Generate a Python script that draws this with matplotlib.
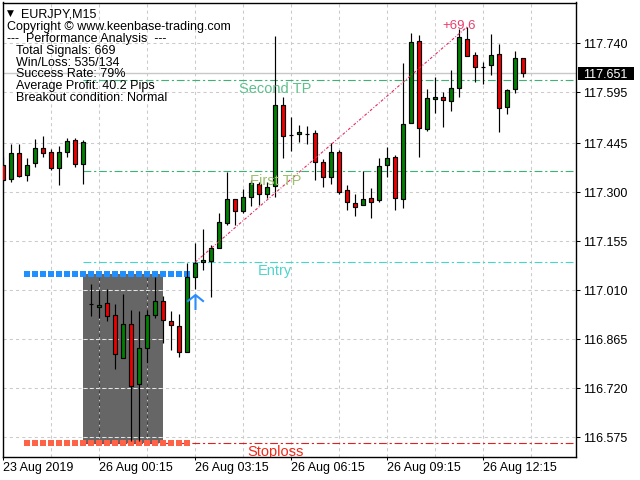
import matplotlib
matplotlib.use("Agg")
import matplotlib.pyplot as plt
from matplotlib.patches import Rectangle
from matplotlib.path import Path
from matplotlib.markers import MarkerStyle

plt.rcParams['font.family'] = ['Liberation Sans', 'DejaVu Sans']

# ---------------- data ----------------
symbol_label = "EURJPY,M15"
copyright_text = "Copyright © www.keenbase-trading.com"
panel_title = "---  Performance Analysis  ---"
panel_lines = ["Total Signals: 669", "Win/Loss: 535/134", "Success Rate: 79%",
               "Average Profit: 40.2 Pips", "Breakout condition: Normal"]

opens = [117.379, 117.338, 117.415, 117.350, 117.385, 117.430, 117.418, 117.370, 117.418, 117.453,
         117.382, 116.968, 116.959, 116.971, 116.936, 116.809, 116.909, 116.732, 116.838, 116.936,
         116.977, 116.918, 116.903, 116.826, 117.048, 117.092, 117.097, 117.134, 117.209, 117.279,
         117.243, 117.285, 117.325, 117.293, 117.317, 117.557, 117.470, 117.471, 117.473, 117.474,
         117.390, 117.346, 117.418, 117.305, 117.267, 117.261, 117.282, 117.276, 117.379, 117.403,
         117.281, 117.503, 117.746, 117.486, 117.574, 117.580, 117.568, 117.607, 117.752, 117.704,
         117.671, 117.675, 117.707, 117.551, 117.604, 117.696]
highs = [117.403, 117.442, 117.443, 117.400, 117.456, 117.466, 117.427, 117.436, 117.461, 117.459,
         117.453, 117.028, 117.010, 117.013, 116.969, 116.998, 116.951, 116.948, 116.952, 117.049,
         116.992, 116.948, 116.939, 117.090, 117.150, 117.190, 117.144, 117.238, 117.360, 117.279,
         117.309, 117.336, 117.331, 117.331, 117.762, 117.580, 117.522, 117.498, 117.495, 117.483,
         117.398, 117.445, 117.423, 117.320, 117.293, 117.362, 117.311, 117.400, 117.433, 117.409,
         117.681, 117.770, 117.765, 117.604, 117.639, 117.596, 117.662, 117.781, 117.788, 117.713,
         117.685, 117.767, 117.737, 117.605, 117.716, 117.696]
lows = [117.335, 117.329, 117.345, 117.334, 117.375, 117.403, 117.364, 117.322, 117.403, 117.374,
        117.325, 116.934, 116.929, 116.920, 116.778, 116.809, 116.565, 116.565, 116.796, 116.929,
        116.855, 116.832, 116.811, 116.826, 117.013, 117.070, 116.991, 117.134, 117.203, 117.204,
        117.237, 117.259, 117.262, 117.284, 117.286, 117.400, 117.422, 117.449, 117.442, 117.337,
        117.316, 117.325, 117.293, 117.246, 117.230, 117.261, 117.223, 117.272, 117.346, 117.246,
        117.254, 117.503, 117.405, 117.481, 117.533, 117.493, 117.539, 117.580, 117.702, 117.625,
        117.619, 117.645, 117.477, 117.530, 117.592, 117.639]
closes = [117.337, 117.415, 117.349, 117.379, 117.429, 117.415, 117.370, 117.418, 117.450, 117.382,
          117.447, 116.968, 116.965, 116.935, 116.820, 116.909, 116.726, 116.838, 116.936, 116.977,
          116.921, 116.906, 116.826, 117.048, 117.091, 117.098, 117.134, 117.213, 117.279, 117.243,
          117.285, 117.327, 117.293, 117.314, 117.557, 117.467, 117.470, 117.477, 117.473, 117.388,
          117.346, 117.418, 117.301, 117.270, 117.257, 117.279, 117.270, 117.376, 117.400, 117.282,
          117.500, 117.743, 117.489, 117.577, 117.580, 117.571, 117.607, 117.758, 117.702, 117.669,
          117.671, 117.704, 117.548, 117.601, 117.696, 117.651]

x_tick_bars = [0, 12, 24, 36, 48, 60]
x_tick_labels = ["23 Aug 2019", "26 Aug 00:15", "26 Aug 03:15",
                 "26 Aug 06:15", "26 Aug 09:15", "26 Aug 12:15"]
y_tick_labels = ["116.575", "116.720", "116.865", "117.010", "117.155",
                 "117.300", "117.445", "117.595", "117.740"]

current_price = 117.651
entry_price = 117.093
first_tp = 117.361
second_tp = 117.631
stoploss = 116.557
range_high = 117.057
range_low = 116.559
range_start_bar = 10
range_end_bar = 20
range_marker_first_bar = 3
range_marker_last_bar = 23
signal_bar = 24
signal_arrow_price = 116.974
target_bar = 58
target_price = 117.789
profit_label = "+69.6"
profit_label_bar = 57
level_label_bar = 34

# ---------------- figure ----------------
W, H = 640, 480
fig = plt.figure(figsize=(6.4, 4.8), dpi=100)
fig.patch.set_facecolor('white')
ax = fig.add_axes([2.7 / W, 23.3 / H, 573.3 / W, 454.2 / H])
ax.set_facecolor('white')

n = len(opens)
ax.set_xlim(-0.075, 71.6)
ax.set_ylim(116.5176, 117.8606)

# grid
ytick_vals = [float(s) for s in y_tick_labels]
grid_kw = dict(color='#CBCBCB', lw=0.75, ls=(0, (3, 3)), zorder=1.5)
for v in ytick_vals:
    ax.axhline(v, **grid_kw)
grid_bars = list(range(6, 72, 6))
for b in grid_bars:
    ax.axvline(b, **grid_kw)

# breakout range box
ax.add_patch(Rectangle((range_start_bar, range_low), range_end_bar - range_start_bar,
                       range_high - range_low, facecolor='#666666', edgecolor='none', zorder=1))
for b in grid_bars:
    if range_start_bar < b < range_end_bar:
        ax.vlines(b, range_low, range_high, colors='#404040', lw=0.75, ls=(0, (3, 3)), zorder=1.6)
for v in ytick_vals:
    if range_low < v < range_high:
        ax.hlines(v, range_start_bar, range_end_bar, colors='#E6E6E6', lw=0.75,
                  ls=(0, (3, 3)), zorder=1.6)

# level lines
xmax = ax.get_xlim()[1]
levels = [(second_tp, '#3CB371', 'Second TP', '#5EC08C'),
          (first_tp, '#3CB371', 'First TP', '#9CC06C'),
          (entry_price, '#40D8CC', 'Entry', '#50D4CC'),
          (stoploss, '#E02020', 'Stoploss', '#F02818')]
for val, lc, txt, tc in levels:
    ax.hlines(val, range_start_bar, xmax, colors=lc, lw=0.8,
              linestyles=(0, (7, 2.5, 2, 2.5)), zorder=2)
    ax.annotate(txt, xy=(level_label_bar, val), xytext=(0, -1.5), textcoords='offset points',
                ha='center', va='top', fontsize=10.5, color=tc, zorder=5,
                annotation_clip=False, clip_on=True)

# current price line
ax.axhline(current_price, color='#C8C8C8', lw=1.0, zorder=1.7)

# range marker squares
marker_bars = list(range(range_marker_first_bar, range_marker_last_bar + 1))
ax.plot(marker_bars, [range_high] * len(marker_bars), ls='none', marker='s', ms=4.0,
        mew=0, color='#1E90FF', zorder=2.5)
ax.plot(marker_bars, [range_low] * len(marker_bars), ls='none', marker='s', ms=4.0,
        mew=0, color='#FF6347', zorder=2.5)

# candles
body_w = 0.5
for i in range(n):
    o, h, l, c = opens[i], highs[i], lows[i], closes[i]
    ax.vlines(i, l, h, colors='black', lw=0.85, zorder=3)
    if c > o:
        fc = '#008000'
    elif c < o:
        fc = '#EE0000'
    else:
        fc = 'black'
    ax.add_patch(Rectangle((i - body_w / 2, min(o, c)), body_w, abs(c - o),
                           facecolor=fc, edgecolor='black', lw=0.85, zorder=3.5))

# projection line and profit label
ax.plot([signal_bar, target_bar], [entry_price, target_price], color='#E62860', lw=0.8,
        ls=(0, (2.5, 1.6, 0.8, 1.6)), zorder=4)
ax.annotate(profit_label, xy=(profit_label_bar, target_price), xytext=(0, -1.6),
            textcoords='offset points', ha='center', va='baseline', fontsize=9.5,
            color='#EC3C6E', zorder=5)

# signal arrow
arrow_path = Path([(-0.5, 0.05), (0, 0.45), (0.5, 0.05), (0, 0.45), (0, -0.45)],
                  [Path.MOVETO, Path.LINETO, Path.LINETO, Path.MOVETO, Path.LINETO])
ax.plot([signal_bar], [signal_arrow_price], ls='none', marker=MarkerStyle(arrow_path),
        ms=12, mew=1.5, mec='#2A8CFF', mfc='none', zorder=4)

# axes styling
for sp in ax.spines.values():
    sp.set_color('black')
    sp.set_linewidth(1.0)
ax.yaxis.tick_right()
ax.set_yticks(ytick_vals)
ax.set_yticklabels(y_tick_labels)
ax.set_xticks(x_tick_bars)
ax.set_xticklabels(x_tick_labels)
for lbl in ax.get_xticklabels():
    lbl.set_ha('left')
ax.tick_params(axis='x', direction='out', length=2.5, width=0.75, pad=1.2, labelsize=9)
ax.tick_params(axis='y', direction='out', length=3, width=0.75, pad=2, labelsize=9)

# current price box on the right scale
fig.canvas.draw()
y_disp = ax.transData.transform((0, current_price))[1]
fig.add_artist(Rectangle((578.3 / W, (y_disp - 6.5) / H), 55.7 / W, 13 / H,
                         transform=fig.transFigure, facecolor='black', edgecolor='none'))
fig.text(583 / W, y_disp / H, f"{current_price:.3f}", color='white', fontsize=9,
         ha='left', va='center_baseline')

# top-left info text
def fpx(x, y):
    return x / W, 1 - y / H

fig.text(*fpx(6.5, 15.5), "▼", fontsize=6.5, family='DejaVu Sans', va='baseline')
fig.text(*fpx(21.5, 17.7), symbol_label, fontsize=9, va='baseline')
fig.text(*fpx(7, 30), copyright_text, fontsize=9, va='baseline')
fig.text(*fpx(7, 41.6), panel_title, fontsize=9, va='baseline')
baselines = [54.2, 66.0, 77.4, 89.3, 101.2]
for t, yb in zip(panel_lines, baselines):
    fig.text(*fpx(16, yb), t, fontsize=9, va='baseline')

fig.savefig("out.png", dpi=100)
